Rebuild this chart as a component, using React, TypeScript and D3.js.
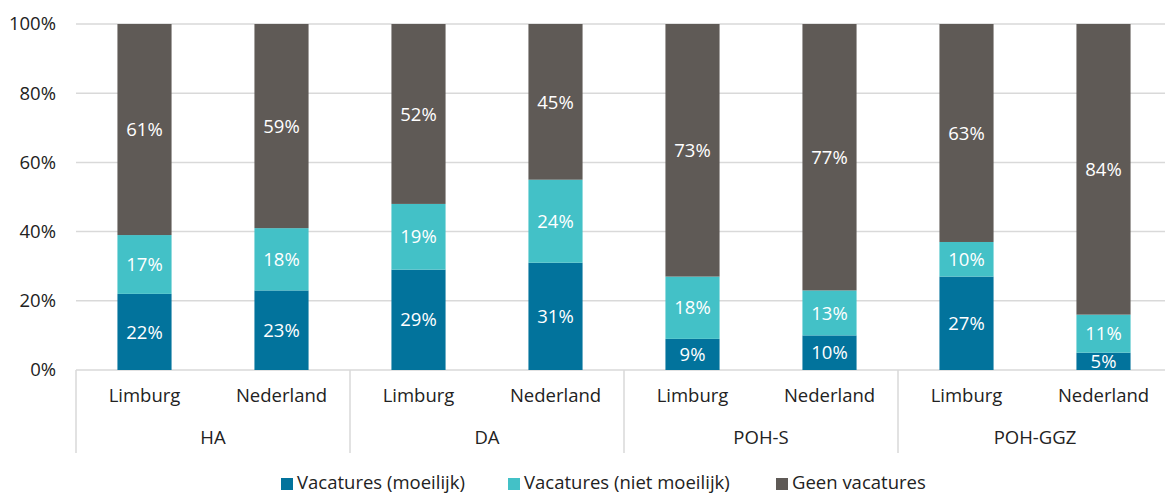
import React from "react";
import * as d3 from "d3";

const groups = ["HA", "DA", "POH-S", "POH-GGZ"];
const regions = ["Limburg", "Nederland"];
const seriesNames = ["Vacatures (moeilijk)", "Vacatures (niet moeilijk)", "Geen vacatures"];
const seriesColors = ["#02739C", "#43C1C7", "#5F5A56"];
const moeilijk = [22, 23, 29, 31, 9, 10, 27, 5];
const nietMoeilijk = [17, 18, 19, 24, 18, 13, 10, 11];
const geen = [61, 59, 52, 45, 73, 77, 63, 84];
const yTicks = [0, 20, 40, 60, 80, 100];

const W = 1165, H = 495;
const left = 76, right = 1172, top = 24, bottom = 370;
const FONT = "'Open Sans', sans-serif";
const FS = 18.5;

export default function App() {
  const cats = groups.flatMap((g) => regions.map((r) => `${g}|${r}`));
  const x = d3.scaleBand().domain(cats).range([left, right]).paddingInner(0).paddingOuter(0);
  const gx = d3.scaleBand().domain(groups).range([left, right]);
  const y = d3.scaleLinear().domain([0, 100]).range([bottom, top]);
  const barW = x.bandwidth() * 0.395;
  const table = cats.map((c, i) => ({ c, v: [moeilijk[i], nietMoeilijk[i], geen[i]] }));
  const stack = d3.stack<any>().keys([0, 1, 2] as any).value((d: any, k: any) => d.v[k]);
  const layers = stack(table as any);

  const legendX = [281, 508, 776];

  return (
    <svg width={W} height={H} style={{ position: "absolute", left: 0, top: 0 }} fontFamily={FONT}>
      {yTicks.map((t) => (
        <g key={t}>
          <line x1={left} x2={right} y1={y(t)} y2={y(t)} stroke="#D9D9D9" strokeWidth={1.5} />
          <text x={56} y={y(t)} dy="0.35em" textAnchor="end" fontSize={FS} fill="#222">{t}%</text>
        </g>
      ))}
      {layers.map((layer, li) =>
        layer.map((d, i) => {
          const cx = x(cats[i])! + x.bandwidth() / 2;
          const y0 = y(d[0]), y1 = y(d[1]);
          return (
            <g key={`${li}-${i}`}>
              <rect x={cx - barW / 2} y={y1} width={barW} height={y0 - y1} fill={seriesColors[li]} />
              <text x={cx} y={(y0 + y1) / 2} dy="0.36em" textAnchor="middle" fontSize={FS} fill="#fff">
                {table[i].v[li]}%
              </text>
            </g>
          );
        })
      )}
      {cats.map((c) => (
        <text key={c} x={x(c)! + x.bandwidth() / 2} y={396} dy="0.35em" textAnchor="middle" fontSize={FS} fill="#222">
          {c.split("|")[1]}
        </text>
      ))}
      {groups.map((g) => (
        <text key={g} x={gx(g)! + gx.bandwidth() / 2} y={438} dy="0.35em" textAnchor="middle" fontSize={FS} fill="#222">
          {g}
        </text>
      ))}
      {[...groups.map((g) => gx(g)!), right].map((v, i) => (
        <line key={i} x1={v} x2={v} y1={bottom} y2={453} stroke="#D9D9D9" strokeWidth={1.5} />
      ))}
      {seriesNames.map((s, i) => (
        <g key={s}>
          <rect x={legendX[i]} y={478} width={12} height={12} fill={seriesColors[i]} />
          <text x={legendX[i] + 16} y={483} dy="0.35em" fontSize={FS} fill="#222">{s}</text>
        </g>
      ))}
    </svg>
  );
}
